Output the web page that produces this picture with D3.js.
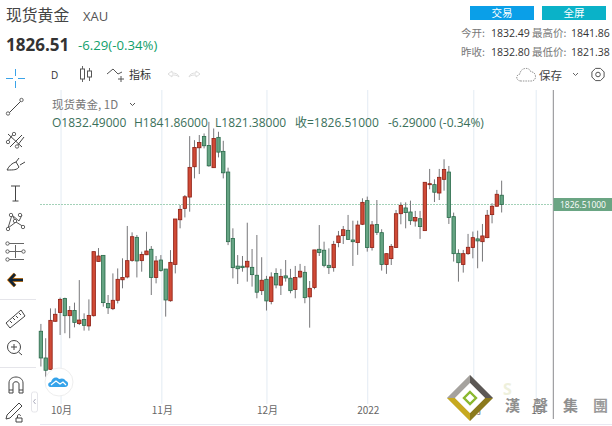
<!DOCTYPE html>
<html>
<head>
<meta charset="utf-8">
<script src="https://cdn.jsdelivr.net/npm/d3@7"></script>
<style>
html, body { margin: 0; padding: 0; background: #fff; overflow: hidden; }
text { font-family: "Open Sans", "Noto Sans CJK SC", sans-serif; }
.cjk { font-family: "Noto Sans CJK SC", sans-serif; }
</style>
</head>
<body>
<svg id="chart" width="612" height="426" viewBox="0 0 612 426"></svg>
<script>
// daily candles, left to right
const opens = [1745.0,1727.8,1720.5,1751.4,1757.1,1766.1,1755.0,1758.4,1749.9,1752.6,1748.4,1755.0,1789.9,1793.8,1762.9,1759.5,1764.9,1778.1,1779.9,1790.6,
    1805.4,1790.4,1794.2,1797.7,1779.6,1790.8,1785.0,1764.6,1788.0,1816.7,1824.0,1831.3,1850.8,1863.0,1870.3,1864.5,1850.2,1869.7,1860.7,1847.4,
    1804.7,1786.9,1786.8,1786.3,1786.1,1781.0,1771.1,1778.4,1764.1,1782.1,1774.6,1780.6,1779.1,1771.8,1779.9,1782.9,1767.1,1773.1,1797.7,1797.1,
    1787.4,1785.9,1802.0,1806.5,1809.9,1803.7,1802.0,1813.8,1829.0,1798.8,1813.6,1808.4,1787.9,1791.7,1798.8,1820.6,1824.3,1821.7,1815.9,1817.4,
    1809.7,1839.3,1839.3,1833.9,1842.7,1847.4,1818.7,1795.1,1787.9,1794.9,1798.8,1804.4,1802.6,1805.2,1820.0,1825.4,1832.49];
const highs = [1749.7,1740.5,1759.7,1759.7,1766.6,1766.6,1761.2,1763.4,1777.9,1756.5,1765.5,1796.2,1798.5,1794.0,1768.3,1782.2,1785.4,1791.9,1812.7,1808.6,
    1806.9,1796.2,1809.0,1799.8,1793.4,1794.0,1785.0,1797.2,1817.2,1826.2,1832.6,1870.5,1867.9,1871.2,1872.2,1879.7,1875.4,1873.3,1867.5,1850.2,
    1811.2,1794.0,1793.4,1814.8,1797.9,1806.9,1792.6,1780.6,1782.9,1785.5,1785.1,1790.8,1785.1,1787.0,1788.3,1787.0,1777.3,1797.3,1813.3,1802.6,
    1798.3,1803.1,1809.5,1812.7,1819.8,1816.1,1816.1,1830.5,1831.6,1815.9,1829.4,1810.6,1795.1,1801.1,1823.0,1827.9,1827.9,1829.0,1822.4,1822.4,
    1840.8,1849.4,1842.7,1849.4,1855.6,1851.3,1821.3,1797.7,1797.3,1807.6,1809.1,1809.7,1814.0,1823.0,1827.3,1835.9,1841.86];
const lows = [1722.3,1715.4,1720.1,1751.1,1742.6,1743.7,1740.5,1747.5,1749.0,1745.4,1745.4,1754.4,1789.7,1760.8,1756.1,1758.6,1762.9,1772.6,1779.0,1789.7,
    1779.6,1783.3,1794.0,1768.3,1775.8,1783.3,1754.4,1764.0,1782.2,1811.2,1818.2,1821.9,1843.3,1846.1,1862.6,1850.8,1850.2,1856.8,1843.3,1800.4,
    1779.0,1775.4,1783.3,1776.9,1773.7,1766.2,1768.3,1758.3,1762.3,1772.6,1768.3,1776.9,1769.4,1766.2,1779.1,1763.0,1747.3,1772.0,1793.4,1786.1,
    1781.8,1783.3,1799.0,1801.1,1803.7,1787.0,1794.1,1813.3,1796.2,1796.9,1806.9,1784.0,1781.9,1787.6,1798.8,1813.8,1811.2,1813.4,1812.3,1804.4,
    1809.7,1836.3,1828.1,1829.4,1835.4,1814.0,1789.8,1776.9,1782.7,1794.1,1791.9,1785.5,1789.8,1804.8,1814.4,1825.1,1821.38];
const closes = [1727.8,1719.9,1752.0,1755.9,1765.5,1755.0,1758.4,1750.7,1752.2,1748.8,1755.2,1796.2,1793.4,1763.4,1760.1,1764.9,1778.4,1779.6,1790.4,1805.8,
    1790.2,1794.4,1796.6,1779.6,1790.2,1784.1,1765.1,1789.3,1817.2,1823.4,1831.5,1850.4,1863.2,1866.4,1864.3,1851.4,1869.0,1860.2,1846.9,1802.6,
    1785.9,1785.2,1785.9,1790.0,1781.4,1770.1,1777.8,1764.5,1779.9,1774.8,1780.3,1779.3,1771.1,1779.5,1783.6,1766.6,1772.6,1797.3,1795.6,1787.4,
    1785.9,1800.9,1806.3,1810.3,1804.1,1802.6,1813.3,1827.9,1798.8,1813.4,1808.6,1787.9,1794.9,1799.6,1820.6,1826.0,1821.3,1816.1,1818.1,1812.3,
    1840.8,1839.9,1834.4,1844.0,1849.1,1818.1,1794.9,1789.1,1794.9,1799.0,1805.2,1803.1,1806.3,1819.6,1825.4,1833.1,1826.51];

// month ticks on the time axis, as candle positions
const tickPositions = [4.2, 25.2, 47.1, 68.1, 90.2, 103.2];
const tickLabels = ["10月", "11月", "12月", "2022", "2月", "15"];

const lastPrice = 1826.51;
const upColor = "#cf4a36", upStroke = "#8e1f14";
const downColor = "#65a483", downStroke = "#2a6a4a";

const svg = d3.select("#chart");

const xScale = d3.scaleLinear().domain([0, 106.7]).range([40.9, 553]);
const yScale = d3.scaleLinear().domain([1700, 1890]).range([401.2, 105.8]);

function drawGrid(){
    let g = svg.append("g");
    g.selectAll("line").data(tickPositions).enter().append("line")
        .attr("x1", d => xScale(d)).attr("x2", d => xScale(d))
        .attr("y1", 90).attr("y2", 404)
        .attr("stroke", "#e3ebf3").attr("stroke-width", 1);
    // right border of the plot
    svg.append("line").attr("x1", 553.3).attr("x2", 553.3).attr("y1", 90).attr("y2", 419)
        .attr("stroke", "#8a8a8e").attr("stroke-width", 1);
    svg.append("line").attr("x1", 40).attr("x2", 612).attr("y1", 424.5).attr("y2", 424.5)
        .attr("stroke", "#e8e8f2").attr("stroke-width", 1);
}

function drawTimeAxis(){
    let axis = d3.axisBottom(xScale)
        .tickValues(tickPositions)
        .tickFormat((d, i) => tickLabels[i])
        .tickSize(0)
        .tickPadding(0);
    let g = svg.append("g").attr("transform", "translate(0,407)").call(axis);
    g.select(".domain").remove();
    g.selectAll("text").attr("class", "cjk").attr("fill", "#666").style("font-size", "10px");
}

function drawCandles(){
    let data = d3.range(opens.length);
    let g = svg.append("g");
    g.selectAll(".wick").data(data).enter().append("line")
        .attr("class", "wick")
        .attr("x1", i => xScale(i)).attr("x2", i => xScale(i))
        .attr("y1", i => yScale(highs[i])).attr("y2", i => yScale(lows[i]))
        .attr("stroke", "#77777a").attr("stroke-width", 1);
    g.selectAll(".body").data(data).enter().append("rect")
        .attr("class", "body")
        .attr("x", i => xScale(i) - 1.7).attr("width", 3.4)
        .attr("y", i => yScale(Math.max(opens[i], closes[i])))
        .attr("height", i => Math.max(1, Math.abs(yScale(opens[i]) - yScale(closes[i]))))
        .attr("fill", i => closes[i] >= opens[i] ? upColor : downColor)
        .attr("stroke", i => closes[i] >= opens[i] ? upStroke : downStroke)
        .attr("stroke-width", 0.8);
}

function drawLastPrice(){
    let y = yScale(lastPrice);
    svg.append("line").attr("x1", 40).attr("x2", 553).attr("y1", y).attr("y2", y)
        .attr("stroke", "#a3d1b8").attr("stroke-width", 1.2).attr("stroke-dasharray", "2,1");
    svg.append("rect").attr("x", 553.5).attr("y", y - 6.5).attr("width", 58.5).attr("height", 13).attr("fill", "#6aa583");
    addText(560, y + 3, "1826.51000", 8.5, "#fff");
}

function addText(x, y, str, size, color, weight, cjk, anchor){
    return svg.append("text").attr("x", x).attr("y", y).text(str)
        .attr("class", cjk ? "cjk" : null)
        .attr("text-anchor", anchor || "start")
        .attr("font-weight", weight || "normal")
        .style("font-size", size + "px").attr("fill", color);
}

function drawHeader(){
    addText(6, 21, "现货黄金", 15.8, "#444", "normal", true);
    addText(83, 21, "XAU", 13, "#555");
    addText(6, 51, "1826.51", 17, "#333", "bold");
    addText(78, 50, "-6.29(-0.34%)", 13.2, "#12a06c");

    svg.append("rect").attr("x", 470).attr("y", 6).attr("width", 64).attr("height", 14).attr("fill", "#0a9fe8");
    svg.append("rect").attr("x", 542).attr("y", 6).attr("width", 64).attr("height", 14).attr("fill", "#0ab2c8");
    addText(502, 17, "交易", 10.5, "#fff", "normal", true, "middle");
    addText(574, 17, "全屏", 10.5, "#fff", "normal", true, "middle");

    addText(461, 37, "今开:", 10.5, "#777", "normal", true);
    addText(491, 37, "1832.49", 10.5, "#333");
    addText(532, 37, "最高价:", 10.5, "#777", "normal", true);
    addText(571, 37, "1841.86", 10.5, "#333");
    addText(461, 56, "昨收:", 10.5, "#777", "normal", true);
    addText(491, 56, "1832.80", 10.5, "#333");
    addText(532, 56, "最低价:", 10.5, "#777", "normal", true);
    addText(571, 56, "1821.38", 10.5, "#333");

    addText(51, 79, "D", 10, "#333");
    addText(129, 79, "指标", 11, "#333", "normal", true);
    addText(539, 80, "保存", 11.5, "#444", "normal", true);

    addText(52, 109, "现货黄金, 1D", 11.5, "#777", "normal", true);
    let legend = [[52, "O1832.49000"], [134, "H1841.86000"], [215, "L1821.38000"], [295, "收=1826.51000"], [388, "-6.29000 (-0.34%)"]];
    legend.forEach(d => addText(d[0], 127, d[1], 12, "#3a6f5a"));
}

function icon(d, color, width, fill){
    return svg.append("path").attr("d", d).attr("fill", fill || "none")
        .attr("stroke", color || "#444").attr("stroke-width", width || 1);
}

function ring(x, y, r){
    svg.append("circle").attr("cx", x).attr("cy", y).attr("r", r || 1.7)
        .attr("fill", "#fff").attr("stroke", "#555").attr("stroke-width", 0.9);
}

// toolbar glyphs, not data
function drawToolbars(){
    // top bar
    icon("M82.5 66V82", "#666");
    icon("M89.5 68V81", "#666");
    svg.append("rect").attr("x", 80.5).attr("y", 69).attr("width", 4).attr("height", 10).attr("fill", "#fff").attr("stroke", "#555");
    svg.append("rect").attr("x", 87.5).attr("y", 71).attr("width", 4).attr("height", 6).attr("fill", "#fff").attr("stroke", "#555");
    icon("M107 74L113 69L118 74L122 72", "#555");
    icon("M118 79H124M121 76V82", "#555");
    icon("M168 74l4-3v2c4 0 6 1 7 4c-2-2-4-2-7-2v2z", "#ddd");
    icon("M200 74l-4-3v2c-4 0-6 1-7 4c2-2 4-2 7-2v2z", "#ddd");
    // cloud and gear
    icon("M521 81c-5 0-6-6-1-7c0-6 9-8 11-2c5-1 7 9 0 9z", "#888", 0.9).attr("stroke-dasharray", "1.5,1");
    icon("M573 73l2.5 2.5l2.5-2.5", "#666");
    svg.append("circle").attr("cx", 598).attr("cy", 74.5).attr("r", 2.3).attr("fill", "none").attr("stroke", "#555");
    svg.append("path").attr("d", d3.line().curve(d3.curveLinearClosed)(d3.range(8).map(k => {
        let a = k * Math.PI / 4 + Math.PI / 8;
        return [598 + 6.6 * Math.cos(a), 74.5 + 6.6 * Math.sin(a)];
    }))).attr("fill", "none").attr("stroke", "#555");
    // chevron next to the symbol name
    icon("M130 103l2.5 2.5l2.5-2.5", "#555");

    // left bar
    icon("M6 78.5H13M18 78.5H25M15.5 69V76M15.5 81V88", "#3aa3e8");
    icon("M9 113L21 101", "#444");
    ring(8, 113.5); ring(21.5, 100);
    icon("M8 141L14 133M10 147L22 135M8 134L22 147M17 146L24 137", "#444");
    ring(8, 142); ring(17, 146.5); ring(14, 134);
    icon("M7 170c2-4 5-7 9-8l3 5c-2 3-5 3-12 3zM16 162l3-4M20 165l5-3", "#444");
    icon("M11 186H20M15.5 186V201M12.5 201H18.5", "#444");
    icon("M8 228L12 215L19 221L22 215M12 215L16 222L24 227M8 228L16 222", "#555");
    ring(8, 229); ring(11, 215); ring(20, 215); ring(23, 227); ring(15, 221);
    icon("M8 243.5H24M8 251.5H24M8 259.5H24M15.5 245V258", "#666");
    ring(7.5, 243.5); ring(23.5, 251.5); ring(7.5, 251.5); ring(7.5, 259.5);
    icon("M11 280H23", "#e88a1a", 4);
    icon("M15 274L9.5 280L15 286", "#e88a1a", 4);
    icon("M11 280H23", "#123", 2.6);
    icon("M15 274L9.5 280L15 286", "#123", 2.6);
    svg.append("line").attr("x1", 0).attr("x2", 36).attr("y1", 299.5).attr("y2", 299.5).attr("stroke", "#e5e5ea");
    svg.append("line").attr("x1", 0).attr("x2", 36).attr("y1", 367.5).attr("y2", 367.5).attr("stroke", "#e5e5ea");
    icon("M6 323L21 310L25 316L10 328Z", "#444");
    icon("M10 321l2 2M13 318l2 2M16 316l2 2M19 313l2 2", "#444");
    svg.append("circle").attr("cx", 14).attr("cy", 347).attr("r", 6.5).attr("fill", "none").attr("stroke", "#444");
    icon("M11 347H17M14 344V350M18.5 352L22 355", "#444");
    icon("M9 393V383c0-8 14-8 14 0V393H19V384c0-3-6-3-6 0V393Z", "#444");
    icon("M9 390H13M19 390H23", "#444");
    icon("M7 415L19 403L22 406L10 418L6 419Z", "#444");
    icon("M16 418h6v4h-6zM17.5 418v-2c0-2 3-2 3 0", "#444");
    svg.append("rect").attr("x", 31.5).attr("y", 392).attr("width", 6).attr("height", 20).attr("rx", 2)
        .attr("fill", "#fff").attr("stroke", "#e5e5ea");
    icon("M35.5 399l-2 2.5l2 2.5", "#aab");
}

// floating site badge and watermark
function drawBadge(){
    svg.append("circle").attr("cx", 59).attr("cy", 382).attr("r", 14).attr("fill", "#fff").attr("stroke", "#eee");
    icon("M50 387c-3-1-2-5 1-5c1-4 5-6 8-3c3-1 5-1 7 2c3 1 3 6-1 6z", "none", 0, "#35a3ea");
    icon("M51 385l5-4l4 3l3-2l3 3", "#fff", 1.2);

    let cx = 470, cy = 398;
    icon(`M${cx} ${cy - 23}L${cx + 23} ${cy}L${cx} ${cy + 23}L${cx - 23} ${cy}Z`, "none", 0, "#d5d5d2");
    icon(`M${cx} ${cy - 23}L${cx - 23} ${cy}L${cx - 15} ${cy}L${cx} ${cy - 15}Z`, "none", 0, "#a5a29e");
    icon(`M${cx} ${cy - 23}L${cx + 23} ${cy}L${cx + 15} ${cy}L${cx} ${cy - 15}Z`, "none", 0, "#5c5855");
    icon(`M${cx - 23} ${cy}L${cx} ${cy + 23}L${cx} ${cy + 15}L${cx - 15} ${cy}Z`, "none", 0, "#c7a91f");
    icon(`M${cx + 23} ${cy}L${cx} ${cy + 23}L${cx} ${cy + 15}L${cx + 15} ${cy}Z`, "none", 0, "#8c7a1c");
    icon(`M${cx} ${cy - 15}L${cx + 15} ${cy}L${cx} ${cy + 15}L${cx - 15} ${cy}Z`, "none", 0, "#fff");
    icon(`M${cx} ${cy - 6}L${cx + 6} ${cy}L${cx} ${cy + 6}L${cx - 6} ${cy}Z`, "#8ab82e", 2.4, "#fff");

    addText(505, 411, "漢", 15, "#8f8f8f", "bold", true);
    addText(533, 411, "聲", 15, "#8f8f8f", "bold", true);
    addText(563, 411, "集", 15, "#8f8f8f", "bold", true);
    addText(593, 411, "團", 15, "#9a9a9a", "bold", true);
    addText(503, 395, "S", 16, "#eef0dc", "bold");
}

drawGrid();
drawLastPrice();
drawCandles();
drawTimeAxis();
drawHeader();
drawToolbars();
drawBadge();
</script>
</body>
</html>
